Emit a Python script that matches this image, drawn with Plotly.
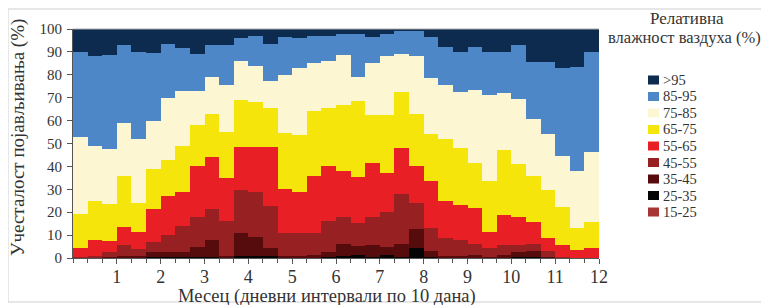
import plotly.graph_objects as go

# 10-day intervals (36 per year) and month labels
intervals = list(range(1, 37))
month_labels = ["1", "2", "3", "4", "5", "6", "7", "8", "9", "10", "11", "12"]

classes = ["15-25", "25-35", "35-45", "45-55", "55-65", "65-75", "75-85", "85-95", ">95"]
colors = ["#a83535", "#050505", "#560b0c", "#972022", "#e81f25", "#f5e50a", "#fcf6d2", "#4d87c7", "#0d2a4f"]

rh_15_25 = [0, 0, 0, 0, 0, 0, 0, 0, 0, 0, 0, 0, 0, 0, 0, 0, 0, 0,
            0, 0, 0, 0, 0, 0, 0, 0, 0, 0, 0, 0, 0, 0, 0, 0, 0, 0]
rh_25_35 = [0, 0, 0, 0, 0, 0.5, 0.5, 0.5, 0.5, 0.5, 0, 1, 1, 0.8, 0, 0, 0, 0.3,
            1, 1.5, 0.5, 1.5, 0.5, 4.4, 0.5, 0, 0, 0, 0, 0, 0.5, 0.5, 0, 0, 0, 0]
rh_35_45 = [0, 0.3, 0.5, 1, 1, 2, 2, 2, 4.5, 7.5, 1, 10, 8, 3.7, 1, 1, 1.3, 2.5,
            5, 3.7, 5, 3.5, 5.5, 8.1, 2.5, 1, 1, 1.5, 0.5, 1.5, 2, 2.5, 0.5, 0, 0, 0]
rh_45_55 = [0.5, 0.7, 2, 4.5, 3, 4.5, 7.5, 11.5, 13, 13.5, 15, 18.5, 20, 18, 10, 9.8, 9.7, 13.2,
            12, 10.3, 12.5, 15, 22, 11.5, 9.9, 7.6, 6.9, 4.5, 3.7, 4, 3, 3, 2.5, 0.5, 0, 0]
rh_55_65 = [4, 7, 5, 8, 7.5, 14.5, 17, 15, 22, 22.5, 19, 19, 19.5, 26, 19, 18.2, 25, 24,
            20, 20, 23.3, 17, 20, 16, 20.7, 16.4, 15.1, 15.7, 7.3, 13.3, 12.5, 9.7, 5.6, 5.2, 3.5, 4.2]
rh_65_75 = [14.5, 17, 16, 22.5, 12.5, 17.5, 16, 20, 18, 19, 20, 20.5, 19.5, 17, 24.5, 24.7, 28, 25.5,
            29, 33, 21.1, 25.5, 24.5, 23, 20.4, 27, 25, 19.9, 22.1, 28.5, 23, 20.3, 21.1, 16.7, 9.4, 11.6]
rh_75_85 = [34, 24, 24, 23, 28, 21, 27, 24, 15, 16, 20.5, 17, 16, 12, 25.5, 29.3, 21, 20.5,
            21.6, 10.5, 22.6, 25.5, 16.5, 25, 24.5, 23.5, 24.6, 31.9, 37.4, 24.7, 28.4, 24.7, 24.3, 22.3, 24.9, 30.5]
rh_85_95 = [37, 39, 41, 34, 38, 29.5, 23.5, 18.5, 16, 14, 17.5, 10, 13, 16, 16.5, 13, 12, 11,
            9.4, 19, 11.4, 10, 10, 11, 17.9, 16.8, 17.4, 18.5, 19, 18, 23.6, 25, 31.7, 38.1, 45.4, 43.8]
rh_gt95 = [10, 12, 11.5, 7, 10, 10.5, 6.5, 8.5, 11, 7, 7, 4, 3, 6.5, 3.5, 4, 3, 3,
           2, 2, 3.6, 2, 1, 1, 3.6, 7.7, 10, 8, 10, 10, 7, 14.3, 14.3, 17.2, 16.8, 9.9]

series = [rh_15_25, rh_25_35, rh_35_45, rh_45_55, rh_55_65, rh_65_75, rh_75_85, rh_85_95, rh_gt95]

SERIF = "Liberation Serif"
TXT = "#333333"

# page body has an 8px margin: the figure starts at (8, 8) in the window
OFF = 8
W, H = 769 - OFF, 305 - OFF
ML, MR, MT, MB = 73 - OFF, 170, 29 - OFF, 47
PW, PH = W - ML - MR, H - MT - MB


def px_x(px):
    # px: window pixel x
    return (px - OFF - ML) / PW


def px_y(py):
    # py: window pixel y
    return (H - MB - (py - OFF)) / PH


fig = go.Figure()
for name, vals, col in zip(classes, series, colors):
    fig.add_trace(go.Bar(x=intervals, y=vals, name=name, width=1,
                         marker=dict(color=col, line=dict(width=0)),
                         showlegend=False))

n = len(intervals)
month_pos = [3 * (m + 1) + 0.5 for m in range(len(month_labels))]
bounds = [i + 0.5 for i in range(n + 1)]

fig.update_layout(
    width=W, height=H,
    margin=dict(l=ML, r=MR, t=MT, b=MB),
    barmode="stack", bargap=0,
    paper_bgcolor="white", plot_bgcolor="white",
    font=dict(family=SERIF, color=TXT),
    xaxis=dict(range=[0.5, n + 0.5], tickmode="array", tickvals=month_pos, ticktext=month_labels,
               ticks="outside", ticklen=5, tickcolor="#555", showline=True, linecolor="#555",
               linewidth=1, showgrid=False, zeroline=False, ticklabelstandoff=-3,
               tickfont=dict(family=SERIF, size=18, color=TXT),
               minor=dict(tickmode="array", tickvals=bounds, ticks="outside", ticklen=4,
                          tickcolor="#555", showgrid=False)),
    yaxis=dict(range=[0, 100], tickmode="linear", tick0=0, dtick=10,
               ticks="outside", ticklen=5, tickcolor="#555", showline=True, linecolor="#555",
               linewidth=1, showgrid=False, zeroline=False, ticklabelstandoff=2,
               tickfont=dict(family=SERIF, size=15, color=TXT)),
)

shapes = [
    # outer frame
    dict(type="rect", xref="paper", yref="paper", x0=px_x(8), x1=px_x(766), y0=px_y(302), y1=px_y(9),
         line=dict(color="#cfcfcf", width=1), fillcolor="rgba(0,0,0,0)", layer="below"),
    # top frame line of plot
    dict(type="line", xref="paper", yref="paper", x0=0, x1=1, y0=1, y1=1,
         line=dict(color="#aaaaaa", width=1), layer="above"),
]

annotations = [
    dict(text="Месец (дневни интервали по 10 дана)", xref="paper", yref="paper",
         x=px_x(327), y=px_y(296.5), xanchor="center", yanchor="middle", showarrow=False,
         font=dict(family=SERIF, size=18.5, color=TXT)),
    dict(text="Учесталост појављивања (%)", xref="paper", yref="paper", textangle=-90,
         x=px_x(18), y=px_y(138), xanchor="center", yanchor="middle", showarrow=False,
         font=dict(family=SERIF, size=19, color=TXT)),
    dict(text="Релативна", xref="paper", yref="paper",
         x=px_x(687), y=px_y(19), xanchor="center", yanchor="middle", showarrow=False,
         font=dict(family=SERIF, size=17, color=TXT)),
    dict(text="влажност ваздуха (%)", xref="paper", yref="paper",
         x=px_x(684), y=px_y(38), xanchor="center", yanchor="middle", showarrow=False,
         font=dict(family=SERIF, size=16.5, color=TXT)),
]

# legend (top to bottom: >95 ... 15-25)
for k, (name, col) in enumerate(zip(classes[::-1], colors[::-1])):
    cy = 80 + 16.5 * k
    shapes.append(dict(type="rect", xref="paper", yref="paper",
                       x0=px_x(648), x1=px_x(659), y0=px_y(cy + 4.5), y1=px_y(cy - 4.5),
                       fillcolor=col, line=dict(width=0)))
    annotations.append(dict(text=name, xref="paper", yref="paper", x=px_x(661), y=px_y(cy),
                            xanchor="left", yanchor="middle", showarrow=False,
                            font=dict(family=SERIF, size=14.5, color=TXT)))

fig.update_layout(shapes=shapes, annotations=annotations)

fig.write_html("out.html")
